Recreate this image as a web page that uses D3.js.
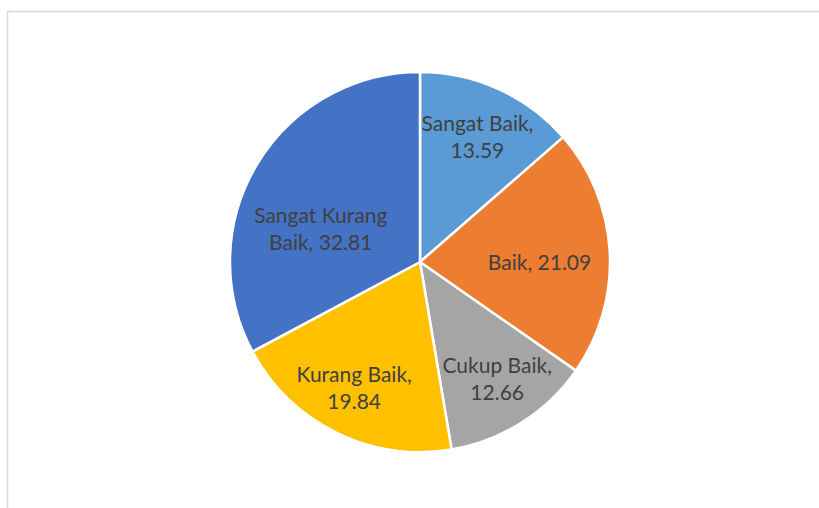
<!DOCTYPE html>
<html>
<head>
<meta charset="utf-8">
<script src="https://cdn.jsdelivr.net/npm/d3@7"></script>
<style>
  body { margin: 0; background: #fff; }
</style>
</head>
<body>
<div id="chart"></div>
<script>
// Chart dimensions
var width = 819;
var height = 508;
var centerX = 420;
var centerY = 262;
var radius = 190;

// Data
var categories = ["Sangat Baik", "Baik", "Cukup Baik", "Kurang Baik", "Sangat Kurang Baik"];
var values = [13.59, 21.09, 12.66, 19.84, 32.81];
var sliceColors = ["#5B9BD5", "#ED7D31", "#A5A5A5", "#FFC000", "#4472C4"];

// Label lines as Excel wraps them
var labelLines = [
    ["Sangat Baik,", "13.59"],
    ["Baik, 21.09"],
    ["Cukup Baik,", "12.66"],
    ["Kurang Baik,", "19.84"],
    ["Sangat Kurang", "Baik, 32.81"]
];
// Where each label sits: fraction of radius along the slice middle, plus a small nudge
var labelRadius = [0.73, 0.63, 0.72, 0.75, 0.56];
var labelShiftX = [0, 0, 4, -3, -8];
var labelShiftY = [1, 7, 2, -2, 22];

var dataset = categories.map((c, i) => ({ category: c, value: values[i], index: i }));

var svg = d3.select("#chart")
    .append("svg")
    .attr("width", width)
    .attr("height", height);

// Chart area border
svg.append("rect")
    .attr("x", 7.5)
    .attr("y", 11.5)
    .attr("width", width)
    .attr("height", height)
    .attr("fill", "none")
    .attr("stroke", "#d9d9d9")
    .attr("stroke-width", 1.5);

var pieLayout = d3.pie().value(d => d.value).sort(null);
var arcGenerator = d3.arc().innerRadius(0).outerRadius(radius);

var slices = svg.selectAll("g.slice")
    .data(pieLayout(dataset))
    .enter()
    .append("g")
    .attr("class", "slice")
    .attr("transform", "translate(" + centerX + "," + centerY + ")");

slices.append("path")
    .attr("d", arcGenerator)
    .attr("fill", d => sliceColors[d.data.index])
    .attr("stroke", "#fff")
    .attr("stroke-width", 2.5)
    .attr("stroke-linejoin", "round");

var lineHeight = 27;

slices.append("text")
    .attr("transform", d => {
        var i = d.data.index;
        var r = radius * labelRadius[i];
        var a = (d.startAngle + d.endAngle) / 2;
        return `translate(${Math.sin(a) * r + labelShiftX[i]}, ${-Math.cos(a) * r + labelShiftY[i]})`;
    })
    .attr("text-anchor", "middle")
    .attr("font-family", "Lato, 'Open Sans', sans-serif")
    .attr("font-size", "21px")
    .attr("fill", "#404040")
    .each(function (d) {
        var lines = labelLines[d.data.index];
        var t = d3.select(this);
        var y0 = -(lines.length - 1) * lineHeight / 2;
        lines.forEach((ln, j) => {
            t.append("tspan")
                .attr("x", 0)
                .attr("y", y0 + j * lineHeight)
                .attr("dy", "0.35em")
                .text(ln);
        });
    });
</script>
</body>
</html>
